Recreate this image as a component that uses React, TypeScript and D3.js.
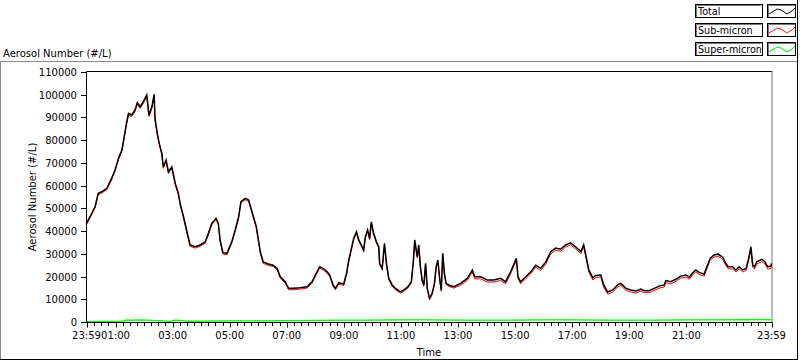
import React from "react";
import * as d3 from "d3";

// hours since 23:59 (start of record)
const timeH = [
  0, 0.12, 0.3, 0.41, 0.53, 0.71, 0.88, 1.0, 1.12, 1.24,
  1.32, 1.39, 1.47, 1.59, 1.7, 1.78, 1.88, 1.99, 2.11, 2.19,
  2.29, 2.37, 2.4, 2.48, 2.55, 2.64, 2.69, 2.79, 2.87, 2.99,
  3.11, 3.22, 3.28, 3.4, 3.52, 3.63, 3.81, 3.98, 4.16, 4.27,
  4.39, 4.54, 4.62, 4.68, 4.78, 4.92, 5.09, 5.21, 5.33, 5.41,
  5.56, 5.68, 5.8, 5.95, 6.09, 6.19, 6.37, 6.54, 6.68, 6.79,
  6.96, 7.08, 7.26, 7.49, 7.73, 7.9, 8.05, 8.17, 8.29, 8.43,
  8.52, 8.64, 8.72, 8.84, 9.01, 9.11, 9.19, 9.27, 9.36, 9.46,
  9.54, 9.63, 9.71, 9.77, 9.85, 9.92, 9.98, 10.06, 10.16, 10.24,
  10.27, 10.36, 10.44, 10.51, 10.59, 10.71, 10.82, 11.0, 11.12, 11.26,
  11.38, 11.45, 11.5, 11.59, 11.64, 11.7, 11.76, 11.82, 11.88, 11.94,
  12.02, 12.11, 12.19, 12.25, 12.31, 12.38, 12.43, 12.48, 12.54, 12.6,
  12.69, 12.87, 13.11, 13.34, 13.52, 13.6, 13.81, 14.04, 14.27, 14.51,
  14.68, 14.86, 15.06, 15.12, 15.21, 15.39, 15.56, 15.74, 15.91, 16.09,
  16.26, 16.44, 16.61, 16.79, 16.96, 17.14, 17.32, 17.42, 17.6, 17.74,
  17.84, 18.02, 18.12, 18.26, 18.44, 18.61, 18.72, 18.9, 19.07, 19.25,
  19.42, 19.54, 19.71, 19.89, 20.06, 20.24, 20.3, 20.47, 20.65, 20.82,
  21.0, 21.12, 21.24, 21.35, 21.47, 21.64, 21.76, 21.85, 21.99, 22.13,
  22.29, 22.4, 22.48, 22.64, 22.75, 22.87, 22.99, 23.11, 23.2, 23.28,
  23.34, 23.4, 23.49, 23.66, 23.77, 23.87, 23.98, 24.0,
];

const totalValues = [
  43400, 46300, 50700, 56600, 57300, 58800, 63200, 66900, 72000, 75700,
  81500, 86700, 91800, 91100, 93300, 96500, 94700, 96900, 99900, 91100,
  94700, 100200, 89600, 83000, 78600, 74200, 68300, 71300, 66100, 68300,
  61000, 56600, 52200, 46300, 39700, 33900, 33100, 33900, 35300, 39000,
  43400, 45600, 43400, 36100, 30500, 30200, 35300, 40500, 46300, 52900,
  54400, 53700, 48500, 41900, 30900, 26400, 25500, 25000, 23500, 19900,
  17700, 14800, 14800, 15100, 15500, 17700, 21400, 24300, 23600, 22100,
  20700, 16300, 14800, 17300, 16700, 21400, 27300, 31700, 36800, 39700,
  36100, 33900, 31700, 37500, 40500, 36800, 44100, 39000, 35300, 33100,
  25800, 23600, 34600, 25800, 19200, 16300, 14800, 13300, 14100, 15500,
  17700, 26500, 36100, 28700, 33900, 24300, 18500, 16300, 25800, 14800,
  10400, 12600, 17000, 24300, 27300, 18500, 14100, 30200, 21400, 17000,
  16300, 15500, 17000, 19200, 22900, 19900, 19900, 18500, 18500, 19200,
  17700, 22100, 28000, 19900, 17700, 19900, 22000, 25000, 23600, 26400,
  30800, 32500, 32000, 33900, 34800, 33000, 31000, 34000, 22900, 19400,
  20500, 20700, 16300, 13200, 14100, 16300, 17000, 14800, 14100, 13600,
  14500, 13800, 13800, 14800, 15800, 16300, 18200, 17700, 18800, 20200,
  20700, 19700, 21700, 22900, 21700, 21100, 25100, 28000, 29500, 29900,
  28500, 25800, 24300, 24300, 22900, 24300, 22900, 23600, 28000, 33100,
  25100, 24300, 26500, 27600, 26500, 24300, 24600, 25800,
];

const subMicronValues = [
  43000, 45800, 50200, 56000, 56700, 58200, 62600, 66300, 71400, 75100,
  80900, 86100, 91100, 90400, 92600, 95800, 94000, 96200, 99200, 90400,
  94000, 99500, 88900, 82300, 77900, 73500, 67600, 70600, 65400, 67600,
  60300, 55900, 51500, 45700, 39100, 33300, 32500, 33300, 34700, 38400,
  42800, 45000, 42800, 35500, 29900, 29600, 34700, 39900, 45700, 52300,
  53800, 53100, 47900, 41300, 30300, 25800, 24900, 24400, 22900, 19300,
  17100, 14200, 14200, 14500, 14900, 17100, 20800, 23700, 23000, 21500,
  20100, 15700, 14200, 16700, 16100, 20800, 26700, 31100, 36200, 39100,
  35500, 33300, 31100, 36900, 39900, 36200, 43500, 38400, 34700, 32500,
  25200, 23000, 34000, 25200, 18600, 15700, 14200, 12700, 13500, 14900,
  17100, 25900, 35500, 28100, 33300, 23700, 17900, 15700, 25200, 14200,
  9800, 12000, 16400, 23700, 26700, 17900, 13500, 29600, 20800, 16400,
  15700, 14900, 16200, 18300, 22000, 19000, 19000, 17600, 17600, 18300,
  16800, 21200, 27100, 19000, 16800, 19000, 21100, 24100, 22700, 25500,
  29900, 31600, 31100, 33000, 33900, 32100, 30100, 33100, 22000, 18500,
  19600, 19800, 15400, 12300, 13200, 15400, 16100, 13900, 13200, 12700,
  13600, 12900, 12900, 13900, 14900, 15400, 17300, 16800, 17900, 19300,
  19800, 18800, 20800, 22000, 20800, 20200, 24200, 27100, 28600, 29000,
  27600, 24900, 23400, 23400, 22000, 23400, 22000, 22700, 27000, 32100,
  24100, 23300, 25500, 26600, 25500, 23300, 23600, 24800,
];

const superTimeH = [
  0, 0.8, 1.3, 1.4, 1.6, 1.7, 2.1, 2.5, 2.9, 3.1, 3.3, 3.5, 4, 5, 6, 7, 8, 9,
  10, 11, 12, 13, 14, 15, 16, 17, 18, 19, 20, 21, 22, 23, 23.5, 24,
];
const superMicronValues = [
  200, 250, 350, 900, 700, 900, 800, 600, 300, 800, 700, 400, 400, 500, 500,
  600, 700, 800, 800, 900, 900, 800, 800, 800, 900, 900, 800, 800, 800, 900,
  900, 1000, 1100, 1000,
];

const xTickLabels = [
  "23:59", "01:00", "03:00", "05:00", "07:00", "09:00", "11:00", "13:00",
  "15:00", "17:00", "19:00", "21:00", "23:59",
];
const yTickValues = [0, 10000, 20000, 30000, 40000, 50000, 60000, 70000, 80000, 90000, 100000, 110000];

const legendNames = ["Total", "Sub-micron", "Super-micron"];
const legendColors = ["#000000", "#ff2020", "#00e000"];

const FONT = "'DejaVu Sans', Verdana, sans-serif";

// label -> hours since 23:59
function labelToHours(lbl: string, i: number, n: number): number {
  if (i === 0) return 0;
  if (i === n - 1) return 24;
  const [hh, mm] = lbl.split(":").map(Number);
  return hh + (mm + 1) / 60;
}

export default function App() {
  const x = d3.scaleLinear().domain([0, 24]).range([86.5, 771.5]);
  const y = d3.scaleLinear().domain([0, 110000]).range([322, 72]);

  const line = d3
    .line<[number, number]>()
    .x((d) => x(d[0]))
    .y((d) => y(d[1]));

  const totalPts = timeH.map((t, i) => [t, totalValues[i]] as [number, number]);
  const subPts = timeH.map((t, i) => [t, subMicronValues[i]] as [number, number]);
  const superPts = superTimeH.map((t, i) => [t, superMicronValues[i]] as [number, number]);

  const majorHours = xTickLabels.map((l, i) => labelToHours(l, i, xTickLabels.length));
  const minorHours = d3
    .range(1, 96)
    .map((k) => k * 0.25 + 1 / 60)
    .filter((h) => h < 24 && !majorHours.some((m) => Math.abs(m - h) < 0.01));

  const plotL = 86.5;
  const plotR = 772.5;
  const plotT = 71.5;
  const plotB = 322.5;

  return (
    <svg
      width={800}
      height={361}
      style={{ position: "absolute", left: 0, top: 0, background: "#fff" }}
      fontFamily={FONT}
    >
      <rect x={0} y={0} width={800} height={361} fill="#fff" />

      {/* outer frame */}
      <line x1={0.5} y1={61.5} x2={797} y2={61.5} stroke="#8a8a8a" />
      <line x1={0.5} y1={61.5} x2={0.5} y2={359} stroke="#8a8a8a" />
      <line x1={797.5} y1={0} x2={797.5} y2={360} stroke="#000" />
      <line x1={0} y1={359.5} x2={798} y2={359.5} stroke="#000" />

      {/* top title */}
      <text x={3} y={57} fontSize={10} fill="#000">
        Aerosol Number (#/L)
      </text>

      {/* legend */}
      {legendNames.map((name, i) => {
        const y0 = 4 + i * 19;
        const sx = 767;
        const zig: [number, number][] = [
          [2, 10],
          [10, 5],
          [14, 6],
          [20, 10],
          [25, 7],
          [28, 4],
        ];
        return (
          <g key={name}>
            <rect x={695.5} y={y0 + 0.5} width={67} height={13} fill="#fff" stroke="#000" />
            <line x1={696.5} y1={y0 + 1.5} x2={761.5} y2={y0 + 1.5} stroke="#7a7a7a" />
            <line x1={696.5} y1={y0 + 1.5} x2={696.5} y2={y0 + 13} stroke="#7a7a7a" />
            <text x={698} y={y0 + 11} fontSize={9.6} fill="#000">
              {name}
            </text>
            <rect x={sx + 0.5} y={y0 + 0.5} width={28} height={13} fill="#fff" stroke="#000" />
            <line x1={sx + 1.5} y1={y0 + 1.5} x2={sx + 28} y2={y0 + 1.5} stroke="#7a7a7a" />
            <line x1={sx + 1.5} y1={y0 + 1.5} x2={sx + 1.5} y2={y0 + 13} stroke="#7a7a7a" />
            <path
              d={d3.line()(zig.map(([a, b]) => [sx + a, y0 + b]))!}
              fill="none"
              stroke={legendColors[i]}
              strokeWidth={1}
            />
          </g>
        );
      })}

      {/* plot frame */}
      <line x1={plotL} y1={plotT} x2={plotR} y2={plotT} stroke="#000" />
      <line x1={plotR - 0.5} y1={plotT} x2={plotR - 0.5} y2={plotB} stroke="#8a8a8a" strokeWidth={1.2} />

      {/* data */}
      <g>
        <path d={line(superPts)!} fill="none" stroke="#00ff00" strokeWidth={1.3} />
        <path d={line(subPts)!} fill="none" stroke="#ff0000" strokeWidth={1} />
        <path d={line(totalPts)!} fill="none" stroke="#000" strokeWidth={1.5} />
      </g>

      {/* y axis */}
      <line x1={plotL} y1={plotT} x2={plotL} y2={plotB} stroke="#000" />
      {yTickValues.map((v) => {
        const yy = Math.round(y(v)) + 0.5;
        return (
          <g key={v}>
            <line x1={81} y1={yy} x2={plotL} y2={yy} stroke="#000" />
            <text x={77} y={yy} dy="0.35em" textAnchor="end" fontSize={10} fill="#000">
              {v}
            </text>
          </g>
        );
      })}

      {/* x axis */}
      <line x1={plotL} y1={plotB} x2={plotR} y2={plotB} stroke="#000" />
      {minorHours.map((h) => {
        const xx = Math.round(x(h)) + 0.5;
        return <line key={h} x1={xx} y1={plotB} x2={xx} y2={plotB + 3.5} stroke="#000" />;
      })}
      {majorHours.map((h, i) => {
        const xx = Math.round(x(h)) + 0.5;
        return (
          <g key={i}>
            <line x1={xx} y1={plotB} x2={xx} y2={plotB + 5} stroke="#000" />
            <text x={x(h)} y={339} textAnchor="middle" fontSize={10} fill="#000">
              {xTickLabels[i]}
            </text>
          </g>
        );
      })}

      {/* axis titles */}
      <text x={429} y={356} textAnchor="middle" fontSize={10} fill="#000">
        Time
      </text>
      <text
        transform={`translate(36, ${(plotT + plotB) / 2}) rotate(-90)`}
        textAnchor="middle"
        fontSize={10}
        fill="#000"
      >
        Aerosol Number (#/L)
      </text>
    </svg>
  );
}
